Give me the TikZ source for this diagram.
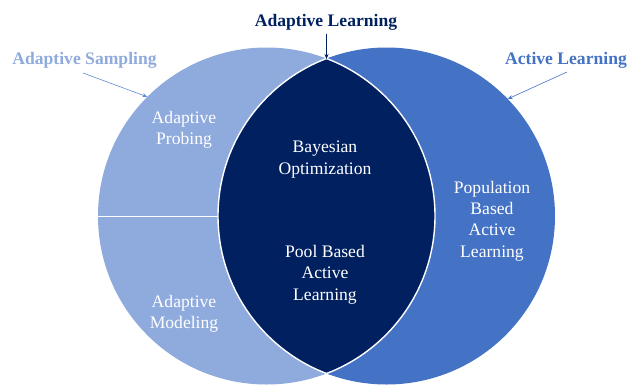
\documentclass[tikz,border=0pt]{standalone}
\usepackage{fontspec}
\setmainfont{Liberation Serif}
\usetikzlibrary{arrows.meta}
\definecolor{lightb}{RGB}{143,170,220}
\definecolor{midb}{RGB}{68,114,196}
\definecolor{navy}{RGB}{0,32,96}
\definecolor{arrowb}{RGB}{95,140,210}
\begin{document}
\begin{tikzpicture}[x=1pt,y=-1pt,
  venn/.style={circle,minimum size=337pt,inner sep=0pt,outer sep=0pt},
  inner/.style={text=white,align=center,font=\fontsize{17.6}{21.4}\selectfont},
  title/.style={font=\bfseries\fontsize{17.6}{21}\selectfont,inner sep=0pt},
  ptr/.style={-{Stealth[length=5pt,width=4pt]},line width=0.6pt}]
\useasboundingbox (0,0) rectangle (629,386);
\node[venn,fill=lightb] (L) at (266.5,216) {};
\node[venn,fill=midb] (R) at (386.5,216) {};
\begin{scope}
  \clip (266.5,216) circle[radius=168.5pt];
  \fill[navy] (386.5,216) circle[radius=168.5pt];
\end{scope}
\begin{scope}
  \clip (386.5,216) circle[radius=168.5pt];
  \draw[white,line width=1.4pt] (266.5,216) circle[radius=168.5pt];
\end{scope}
\begin{scope}
  \clip (266.5,216) circle[radius=168.5pt];
  \draw[white,line width=1.4pt] (386.5,216) circle[radius=168.5pt];
\end{scope}
\draw[white,line width=1pt] (L.west) -- (R.west);
% titles
\node[title,text=navy] (al) at (326,22.5) {Adaptive Learning};
\node[title,text=lightb] (as) at (84.5,60.5) {Adaptive Sampling};
\node[title,text=midb] (act) at (566,60.5) {Active Learning};
\coordinate (top) at (326.5,59);
\coordinate (alS) at (326.5,34);
\coordinate (asS) at (83,73);
\coordinate (actS) at (567,72);
\draw[ptr,navy] (alS) -- (top);
\draw[ptr,arrowb] (asS) -- (L.135.6);
\draw[ptr,midb] (actS) -- (R.44.2);
% inner texts
\node[inner] (ap) at (184,129.5) {Adaptive\\Probing};
\node[inner] (bo) at (325,159.5) {Bayesian\\Optimization};
\node[inner] (pba) at (492,221) {Population\\Based\\Active\\Learning};
\node[inner] (pool) at (325,274.5) {Pool Based\\Active\\Learning};
\node[inner] (am) at (184,313.5) {Adaptive\\Modeling};
\end{tikzpicture}
\end{document}
